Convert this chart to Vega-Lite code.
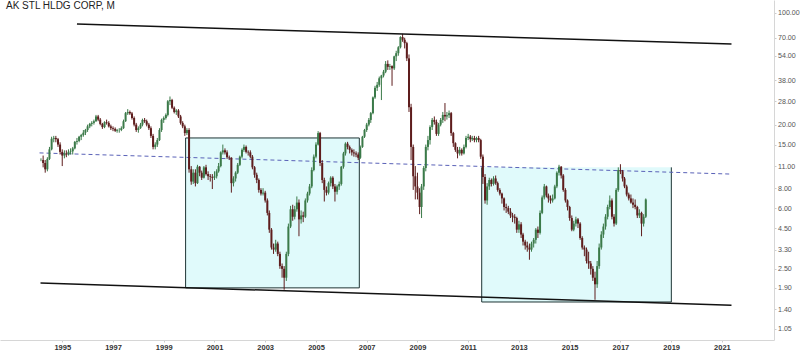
{
  "$schema": "https://vega.github.io/schema/vega-lite/v6.json",
  "width": 774,
  "height": 340,
  "autosize": "none",
  "padding": {"left": 0, "top": 0, "right": 26, "bottom": 12},
  "background": "#ffffff",
  "config": {"view": {"stroke": null}, "font": "Liberation Sans"},
  "title": {"text": "AK STL HLDG CORP, M", "anchor": "start", "frame": "group", "orient": "top", "offset": -11, "fontSize": 10, "fontWeight": "normal", "color": "#222222", "font": "Liberation Sans", "dx": 6},
  "datasets": {
    "candles": [
      {"d":"1994-03-01","o":12,"h":12.3,"l":11.8,"c":12},
      {"d":"1994-04-01","o":12,"h":12.8,"l":10.8,"c":11.5},
      {"d":"1994-05-01","o":11.5,"h":12,"l":10,"c":10.5},
      {"d":"1994-06-01","o":10.5,"h":12.5,"l":10.2,"c":12.2},
      {"d":"1994-07-01","o":12.2,"h":14.5,"l":12,"c":14},
      {"d":"1994-08-01","o":14,"h":16.8,"l":13.8,"c":16.3},
      {"d":"1994-09-01","o":16.3,"h":17,"l":15.5,"c":16.5},
      {"d":"1994-10-01","o":16.5,"h":17,"l":15.5,"c":16.2},
      {"d":"1994-11-01","o":16.2,"h":16.5,"l":14.5,"c":15},
      {"d":"1994-12-01","o":15,"h":15.5,"l":13,"c":13.5},
      {"d":"1995-01-01","o":13.5,"h":14,"l":11,"c":12.8},
      {"d":"1995-02-01","o":12.8,"h":13.8,"l":12.3,"c":13.2},
      {"d":"1995-03-01","o":13.2,"h":13.8,"l":12.5,"c":13},
      {"d":"1995-04-01","o":13,"h":14,"l":12.8,"c":13.5},
      {"d":"1995-05-01","o":13.5,"h":14.2,"l":13,"c":13.6},
      {"d":"1995-06-01","o":13.6,"h":14.5,"l":13,"c":14.2},
      {"d":"1995-07-01","o":14.2,"h":15.8,"l":14,"c":15.6},
      {"d":"1995-08-01","o":15.6,"h":16.5,"l":15,"c":15.8},
      {"d":"1995-09-01","o":15.8,"h":17,"l":15.5,"c":16.8},
      {"d":"1995-10-01","o":16.8,"h":17.5,"l":16,"c":17.2},
      {"d":"1995-11-01","o":17.2,"h":18.5,"l":16.8,"c":17.8},
      {"d":"1995-12-01","o":17.8,"h":18.8,"l":17.2,"c":18.5},
      {"d":"1996-01-01","o":18.5,"h":20,"l":18,"c":19.5},
      {"d":"1996-02-01","o":19.5,"h":20.5,"l":19,"c":20.2},
      {"d":"1996-03-01","o":20.2,"h":21,"l":19.5,"c":20.5},
      {"d":"1996-04-01","o":20.5,"h":21.5,"l":20,"c":21},
      {"d":"1996-05-01","o":21,"h":23,"l":20.8,"c":22.5},
      {"d":"1996-06-01","o":22.5,"h":23,"l":21,"c":21.5},
      {"d":"1996-07-01","o":21.5,"h":22,"l":19.8,"c":20.2},
      {"d":"1996-08-01","o":20.2,"h":20.5,"l":18.8,"c":19.3},
      {"d":"1996-09-01","o":19.3,"h":21,"l":19,"c":20.7},
      {"d":"1996-10-01","o":20.7,"h":21.5,"l":20,"c":20.5},
      {"d":"1996-11-01","o":20.5,"h":21,"l":19.2,"c":19.5},
      {"d":"1996-12-01","o":19.5,"h":20,"l":18.5,"c":19},
      {"d":"1997-01-01","o":19,"h":19.5,"l":18.2,"c":18.8},
      {"d":"1997-02-01","o":18.8,"h":19.2,"l":18,"c":18.3},
      {"d":"1997-03-01","o":18.3,"h":18.8,"l":17.8,"c":18.5},
      {"d":"1997-04-01","o":18.5,"h":19,"l":17.8,"c":18.5},
      {"d":"1997-05-01","o":18.5,"h":19.5,"l":18.2,"c":19},
      {"d":"1997-06-01","o":19,"h":21.5,"l":18.8,"c":21},
      {"d":"1997-07-01","o":21,"h":24,"l":20.8,"c":23.6},
      {"d":"1997-08-01","o":23.6,"h":25,"l":23,"c":24},
      {"d":"1997-09-01","o":24,"h":24.5,"l":23,"c":23.5},
      {"d":"1997-10-01","o":23.5,"h":24,"l":21.5,"c":22},
      {"d":"1997-11-01","o":22,"h":22.5,"l":19.5,"c":20},
      {"d":"1997-12-01","o":20,"h":20.5,"l":18,"c":18.5},
      {"d":"1998-01-01","o":18.5,"h":19.5,"l":17.8,"c":19},
      {"d":"1998-02-01","o":19,"h":20.5,"l":18.8,"c":20},
      {"d":"1998-03-01","o":20,"h":21.8,"l":19.5,"c":21.4},
      {"d":"1998-04-01","o":21.4,"h":22,"l":20.5,"c":21},
      {"d":"1998-05-01","o":21,"h":21.5,"l":19.5,"c":20},
      {"d":"1998-06-01","o":20,"h":20.5,"l":18.5,"c":19},
      {"d":"1998-07-01","o":19,"h":19.5,"l":16.5,"c":17},
      {"d":"1998-08-01","o":17,"h":17.5,"l":14,"c":14.5},
      {"d":"1998-09-01","o":14.5,"h":15.5,"l":14,"c":15},
      {"d":"1998-10-01","o":15,"h":16.5,"l":14.5,"c":16},
      {"d":"1998-11-01","o":16,"h":19,"l":15.8,"c":18.5},
      {"d":"1998-12-01","o":18.5,"h":21.8,"l":18,"c":21.4},
      {"d":"1999-01-01","o":21.4,"h":22.5,"l":20.5,"c":22},
      {"d":"1999-02-01","o":22,"h":23.5,"l":21.5,"c":23},
      {"d":"1999-03-01","o":23,"h":28.5,"l":22.5,"c":28},
      {"d":"1999-04-01","o":28,"h":30,"l":26.5,"c":28.5},
      {"d":"1999-05-01","o":28.5,"h":29,"l":25,"c":25.5},
      {"d":"1999-06-01","o":25.5,"h":26,"l":23.5,"c":24},
      {"d":"1999-07-01","o":24,"h":25,"l":23,"c":24.5},
      {"d":"1999-08-01","o":24.5,"h":25,"l":22,"c":22.5},
      {"d":"1999-09-01","o":22.5,"h":23,"l":20,"c":20.5},
      {"d":"1999-10-01","o":20.5,"h":21,"l":19,"c":19.5},
      {"d":"1999-11-01","o":19.5,"h":20,"l":17,"c":17.7},
      {"d":"1999-12-01","o":17.7,"h":19,"l":17.2,"c":18.5},
      {"d":"2000-01-01","o":18.5,"h":19,"l":10,"c":10.5},
      {"d":"2000-02-01","o":10.5,"h":11,"l":8.4,"c":8.8},
      {"d":"2000-03-01","o":8.8,"h":10.5,"l":8.5,"c":10},
      {"d":"2000-04-01","o":10,"h":10.5,"l":8.2,"c":8.6},
      {"d":"2000-05-01","o":8.6,"h":11.2,"l":8.5,"c":10.9},
      {"d":"2000-06-01","o":10.9,"h":11,"l":9.5,"c":10},
      {"d":"2000-07-01","o":10,"h":10.3,"l":9,"c":9.3},
      {"d":"2000-08-01","o":9.3,"h":11,"l":9.2,"c":10.8},
      {"d":"2000-09-01","o":10.8,"h":11.2,"l":9.6,"c":9.8},
      {"d":"2000-10-01","o":9.8,"h":10.2,"l":9,"c":9.5},
      {"d":"2000-11-01","o":9.5,"h":9.8,"l":8.8,"c":9.4},
      {"d":"2000-12-01","o":9.4,"h":9.8,"l":7.9,"c":9.3},
      {"d":"2001-01-01","o":9.3,"h":10.2,"l":9,"c":9.5},
      {"d":"2001-02-01","o":9.5,"h":10.5,"l":9.2,"c":10.2},
      {"d":"2001-03-01","o":10.2,"h":11.5,"l":10,"c":11},
      {"d":"2001-04-01","o":11,"h":13.6,"l":10.8,"c":13.4},
      {"d":"2001-05-01","o":13.4,"h":15,"l":13,"c":13.8},
      {"d":"2001-06-01","o":13.8,"h":14.2,"l":13,"c":13.4},
      {"d":"2001-07-01","o":13.4,"h":13.8,"l":12.2,"c":12.5},
      {"d":"2001-08-01","o":12.5,"h":12.8,"l":12,"c":12.4},
      {"d":"2001-09-01","o":12.4,"h":12.5,"l":7.5,"c":8.6},
      {"d":"2001-10-01","o":8.6,"h":9.5,"l":8.2,"c":9.2},
      {"d":"2001-11-01","o":9.2,"h":10.2,"l":8.8,"c":10},
      {"d":"2001-12-01","o":10,"h":11.5,"l":9.8,"c":11.2},
      {"d":"2002-01-01","o":11.2,"h":12.8,"l":11,"c":12.6},
      {"d":"2002-02-01","o":12.6,"h":14.2,"l":12.3,"c":13.9},
      {"d":"2002-03-01","o":13.9,"h":15,"l":13.5,"c":14.5},
      {"d":"2002-04-01","o":14.5,"h":14.8,"l":13.2,"c":13.5},
      {"d":"2002-05-01","o":13.5,"h":13.8,"l":12.8,"c":13.4},
      {"d":"2002-06-01","o":13.4,"h":13.8,"l":12.3,"c":12.6},
      {"d":"2002-07-01","o":12.6,"h":12.9,"l":10.5,"c":10.8},
      {"d":"2002-08-01","o":10.8,"h":11,"l":9.3,"c":9.7},
      {"d":"2002-09-01","o":9.7,"h":10,"l":8.6,"c":9},
      {"d":"2002-10-01","o":9,"h":9.2,"l":7.5,"c":7.8},
      {"d":"2002-11-01","o":7.8,"h":8,"l":7.2,"c":7.4},
      {"d":"2002-12-01","o":7.4,"h":8,"l":7.2,"c":7.5},
      {"d":"2003-01-01","o":7.5,"h":7.7,"l":6.5,"c":6.7},
      {"d":"2003-02-01","o":6.7,"h":6.9,"l":5.4,"c":5.6},
      {"d":"2003-03-01","o":5.6,"h":5.8,"l":4.2,"c":4.4},
      {"d":"2003-04-01","o":4.4,"h":4.5,"l":3.3,"c":3.4},
      {"d":"2003-05-01","o":3.4,"h":3.6,"l":3.1,"c":3.3},
      {"d":"2003-06-01","o":3.3,"h":3.8,"l":3.2,"c":3.6},
      {"d":"2003-07-01","o":3.6,"h":3.7,"l":3,"c":3.1},
      {"d":"2003-08-01","o":3.1,"h":3.2,"l":2.5,"c":2.6},
      {"d":"2003-09-01","o":2.6,"h":2.7,"l":2.2,"c":2.5},
      {"d":"2003-10-01","o":2.5,"h":2.6,"l":1.85,"c":2.2},
      {"d":"2003-11-01","o":2.2,"h":3.2,"l":2.1,"c":3.1},
      {"d":"2003-12-01","o":3.1,"h":4.8,"l":3,"c":4.6},
      {"d":"2004-01-01","o":4.6,"h":6.2,"l":4.5,"c":5.9},
      {"d":"2004-02-01","o":5.9,"h":6.3,"l":5,"c":5.3},
      {"d":"2004-03-01","o":5.3,"h":6.2,"l":5.1,"c":5.9},
      {"d":"2004-04-01","o":5.9,"h":7.1,"l":5.7,"c":6.5},
      {"d":"2004-05-01","o":6.5,"h":6.8,"l":4,"c":5.1},
      {"d":"2004-06-01","o":5.1,"h":5.8,"l":4.8,"c":5.4},
      {"d":"2004-07-01","o":5.4,"h":5.7,"l":4.9,"c":5.3},
      {"d":"2004-08-01","o":5.3,"h":6.9,"l":5.2,"c":6.7},
      {"d":"2004-09-01","o":6.7,"h":7.6,"l":6.5,"c":7.4},
      {"d":"2004-10-01","o":7.4,"h":8.5,"l":7.2,"c":8.2},
      {"d":"2004-11-01","o":8.2,"h":10.8,"l":8,"c":10.4},
      {"d":"2004-12-01","o":10.4,"h":13,"l":10.2,"c":12.6},
      {"d":"2005-01-01","o":12.6,"h":15.5,"l":12.3,"c":15},
      {"d":"2005-02-01","o":15,"h":18.2,"l":14.8,"c":17.7},
      {"d":"2005-03-01","o":17.7,"h":18,"l":11,"c":11.5},
      {"d":"2005-04-01","o":11.5,"h":12,"l":8.6,"c":9},
      {"d":"2005-05-01","o":9,"h":9.3,"l":6.6,"c":7.8},
      {"d":"2005-06-01","o":7.8,"h":8.2,"l":7.2,"c":7.5},
      {"d":"2005-07-01","o":7.5,"h":8.8,"l":7.3,"c":8.6},
      {"d":"2005-08-01","o":8.6,"h":9.5,"l":8.2,"c":9.3},
      {"d":"2005-09-01","o":9.3,"h":9.5,"l":7.9,"c":8.2},
      {"d":"2005-10-01","o":8.2,"h":8.5,"l":6.6,"c":7.6},
      {"d":"2005-11-01","o":7.6,"h":8.4,"l":7.3,"c":8.2},
      {"d":"2005-12-01","o":8.2,"h":8.8,"l":7.8,"c":8.5},
      {"d":"2006-01-01","o":8.5,"h":11,"l":8.3,"c":10.9},
      {"d":"2006-02-01","o":10.9,"h":13.5,"l":10.6,"c":13.2},
      {"d":"2006-03-01","o":13.2,"h":15.5,"l":12.8,"c":15.2},
      {"d":"2006-04-01","o":15.2,"h":15.6,"l":14,"c":14.5},
      {"d":"2006-05-01","o":14.5,"h":14.8,"l":13.2,"c":13.9},
      {"d":"2006-06-01","o":13.9,"h":14.2,"l":12.8,"c":13.4},
      {"d":"2006-07-01","o":13.4,"h":14,"l":12.6,"c":13.2},
      {"d":"2006-08-01","o":13.2,"h":13.6,"l":12.5,"c":13},
      {"d":"2006-09-01","o":13,"h":13.4,"l":12,"c":12.4},
      {"d":"2006-10-01","o":12.4,"h":14.8,"l":12.2,"c":14.5},
      {"d":"2006-11-01","o":14.5,"h":17,"l":14.3,"c":16.8},
      {"d":"2006-12-01","o":16.8,"h":18.8,"l":16.5,"c":18.5},
      {"d":"2007-01-01","o":18.5,"h":20.5,"l":18,"c":20},
      {"d":"2007-02-01","o":20,"h":22,"l":19.5,"c":21.4},
      {"d":"2007-03-01","o":21.4,"h":24,"l":20.5,"c":23.6},
      {"d":"2007-04-01","o":23.6,"h":30,"l":23.2,"c":29.6},
      {"d":"2007-05-01","o":29.6,"h":35,"l":29,"c":34},
      {"d":"2007-06-01","o":34,"h":37,"l":32.5,"c":35.5},
      {"d":"2007-07-01","o":35.5,"h":40,"l":34.5,"c":39},
      {"d":"2007-08-01","o":39,"h":41,"l":28.5,"c":40.6},
      {"d":"2007-09-01","o":40.6,"h":44,"l":39.5,"c":42.9},
      {"d":"2007-10-01","o":42.9,"h":50,"l":42,"c":48},
      {"d":"2007-11-01","o":48,"h":50.5,"l":44,"c":46},
      {"d":"2007-12-01","o":46,"h":48,"l":44,"c":46.5},
      {"d":"2008-01-01","o":46.5,"h":47,"l":35,"c":45},
      {"d":"2008-02-01","o":45,"h":54,"l":44,"c":53.5},
      {"d":"2008-03-01","o":53.5,"h":58,"l":50,"c":56},
      {"d":"2008-04-01","o":56,"h":62,"l":54,"c":61},
      {"d":"2008-05-01","o":61,"h":71.5,"l":60,"c":70.7},
      {"d":"2008-06-01","o":70.7,"h":74,"l":66,"c":68},
      {"d":"2008-07-01","o":68,"h":70,"l":60,"c":64.7},
      {"d":"2008-08-01","o":64.7,"h":66,"l":50,"c":52},
      {"d":"2008-09-01","o":52,"h":55,"l":24,"c":25.7},
      {"d":"2008-10-01","o":25.7,"h":27,"l":12,"c":14.5},
      {"d":"2008-11-01","o":14.5,"h":15,"l":7.8,"c":9.5},
      {"d":"2008-12-01","o":9.5,"h":11,"l":6.8,"c":8.2},
      {"d":"2009-01-01","o":8.2,"h":10,"l":6.8,"c":7.5},
      {"d":"2009-02-01","o":7.5,"h":8,"l":5.5,"c":6.1},
      {"d":"2009-03-01","o":6.1,"h":8.5,"l":5.2,"c":8.2},
      {"d":"2009-04-01","o":8.2,"h":11,"l":7.8,"c":10.7},
      {"d":"2009-05-01","o":10.7,"h":15,"l":10.2,"c":14.5},
      {"d":"2009-06-01","o":14.5,"h":17,"l":13.8,"c":16},
      {"d":"2009-07-01","o":16,"h":19.8,"l":15,"c":19.3},
      {"d":"2009-08-01","o":19.3,"h":22,"l":18.5,"c":21.4},
      {"d":"2009-09-01","o":21.4,"h":22.5,"l":20,"c":20.8},
      {"d":"2009-10-01","o":20.8,"h":21.5,"l":17,"c":17.5},
      {"d":"2009-11-01","o":17.5,"h":20.5,"l":17,"c":20},
      {"d":"2009-12-01","o":20,"h":22,"l":19.5,"c":21.4},
      {"d":"2010-01-01","o":21.4,"h":24,"l":20.5,"c":23},
      {"d":"2010-02-01","o":23,"h":27.3,"l":21,"c":22.5},
      {"d":"2010-03-01","o":22.5,"h":24,"l":21.5,"c":22.9},
      {"d":"2010-04-01","o":22.9,"h":24.5,"l":22,"c":23.6},
      {"d":"2010-05-01","o":23.6,"h":24,"l":17,"c":17.7},
      {"d":"2010-06-01","o":17.7,"h":18,"l":14.5,"c":15.3},
      {"d":"2010-07-01","o":15.3,"h":15.5,"l":13.5,"c":13.9},
      {"d":"2010-08-01","o":13.9,"h":14.5,"l":12.3,"c":13.2},
      {"d":"2010-09-01","o":13.2,"h":14.5,"l":12.8,"c":13.9},
      {"d":"2010-10-01","o":13.9,"h":14.2,"l":12.8,"c":13.2},
      {"d":"2010-11-01","o":13.2,"h":15,"l":13,"c":14.5},
      {"d":"2010-12-01","o":14.5,"h":17,"l":14.2,"c":16.5},
      {"d":"2011-01-01","o":16.5,"h":17.5,"l":16,"c":16.8},
      {"d":"2011-02-01","o":16.8,"h":17.2,"l":15.5,"c":16.2},
      {"d":"2011-03-01","o":16.2,"h":17,"l":15.8,"c":16.5},
      {"d":"2011-04-01","o":16.5,"h":17,"l":15.5,"c":16},
      {"d":"2011-05-01","o":16,"h":16.8,"l":15.5,"c":16.5},
      {"d":"2011-06-01","o":16.5,"h":17,"l":15.5,"c":16},
      {"d":"2011-07-01","o":16,"h":16.3,"l":12.2,"c":12.6},
      {"d":"2011-08-01","o":12.6,"h":13,"l":8.5,"c":9.4},
      {"d":"2011-09-01","o":9.4,"h":9.8,"l":6.4,"c":6.7},
      {"d":"2011-10-01","o":6.7,"h":8.6,"l":6.3,"c":8.2},
      {"d":"2011-11-01","o":8.2,"h":9.3,"l":7.8,"c":9},
      {"d":"2011-12-01","o":9,"h":9.2,"l":8.2,"c":8.5},
      {"d":"2012-01-01","o":8.5,"h":9.5,"l":8.3,"c":9.2},
      {"d":"2012-02-01","o":9.2,"h":9.6,"l":8.4,"c":8.6},
      {"d":"2012-03-01","o":8.6,"h":8.8,"l":7.6,"c":7.8},
      {"d":"2012-04-01","o":7.8,"h":8,"l":7.2,"c":7.4},
      {"d":"2012-05-01","o":7.4,"h":7.5,"l":6.4,"c":6.9},
      {"d":"2012-06-01","o":6.9,"h":7,"l":5.8,"c":6.1},
      {"d":"2012-07-01","o":6.1,"h":6.4,"l":5.6,"c":6},
      {"d":"2012-08-01","o":6,"h":6.2,"l":5.5,"c":5.7},
      {"d":"2012-09-01","o":5.7,"h":6,"l":5.2,"c":5.4},
      {"d":"2012-10-01","o":5.4,"h":5.6,"l":4.9,"c":5.3},
      {"d":"2012-11-01","o":5.3,"h":5.5,"l":4.8,"c":5.2},
      {"d":"2012-12-01","o":5.2,"h":5.3,"l":4.2,"c":4.4},
      {"d":"2013-01-01","o":4.4,"h":5,"l":4.2,"c":4.75},
      {"d":"2013-02-01","o":4.75,"h":4.9,"l":3.9,"c":4.1},
      {"d":"2013-03-01","o":4.1,"h":4.2,"l":3.5,"c":3.7},
      {"d":"2013-04-01","o":3.7,"h":3.8,"l":3.3,"c":3.5},
      {"d":"2013-05-01","o":3.5,"h":3.7,"l":3.2,"c":3.4},
      {"d":"2013-06-01","o":3.4,"h":3.6,"l":2.85,"c":3.3},
      {"d":"2013-07-01","o":3.3,"h":3.7,"l":3.2,"c":3.6},
      {"d":"2013-08-01","o":3.6,"h":3.9,"l":3.4,"c":3.8},
      {"d":"2013-09-01","o":3.8,"h":4.5,"l":3.6,"c":4.4},
      {"d":"2013-10-01","o":4.4,"h":4.6,"l":3.9,"c":4.2},
      {"d":"2013-11-01","o":4.2,"h":5.8,"l":4.1,"c":5.6},
      {"d":"2013-12-01","o":5.6,"h":7.2,"l":5.5,"c":7},
      {"d":"2014-01-01","o":7,"h":8.5,"l":6.8,"c":8.2},
      {"d":"2014-02-01","o":8.2,"h":8.3,"l":7,"c":7.2},
      {"d":"2014-03-01","o":7.2,"h":7.4,"l":6.5,"c":6.9},
      {"d":"2014-04-01","o":6.9,"h":7.2,"l":6.4,"c":6.7},
      {"d":"2014-05-01","o":6.7,"h":7.3,"l":6.5,"c":6.9},
      {"d":"2014-06-01","o":6.9,"h":8.4,"l":6.8,"c":8.2},
      {"d":"2014-07-01","o":8.2,"h":10.2,"l":8,"c":10},
      {"d":"2014-08-01","o":10,"h":11.2,"l":9.6,"c":10.9},
      {"d":"2014-09-01","o":10.9,"h":11,"l":9.2,"c":9.6},
      {"d":"2014-10-01","o":9.6,"h":9.8,"l":7.6,"c":7.8},
      {"d":"2014-11-01","o":7.8,"h":8,"l":6.5,"c":6.7},
      {"d":"2014-12-01","o":6.7,"h":6.8,"l":5.8,"c":6.1},
      {"d":"2015-01-01","o":6.1,"h":6.2,"l":5,"c":5.2},
      {"d":"2015-02-01","o":5.2,"h":5.4,"l":4.3,"c":4.4},
      {"d":"2015-03-01","o":4.4,"h":5,"l":4.3,"c":4.8},
      {"d":"2015-04-01","o":4.8,"h":5.3,"l":4.6,"c":5.1},
      {"d":"2015-05-01","o":5.1,"h":5.2,"l":4.5,"c":4.8},
      {"d":"2015-06-01","o":4.8,"h":4.9,"l":3.8,"c":3.9},
      {"d":"2015-07-01","o":3.9,"h":4,"l":3.3,"c":3.4},
      {"d":"2015-08-01","o":3.4,"h":3.5,"l":3,"c":3.3},
      {"d":"2015-09-01","o":3.3,"h":3.4,"l":2.7,"c":2.8},
      {"d":"2015-10-01","o":2.8,"h":3.2,"l":2.5,"c":2.7},
      {"d":"2015-11-01","o":2.7,"h":2.8,"l":2.3,"c":2.5},
      {"d":"2015-12-01","o":2.5,"h":2.6,"l":2.1,"c":2.2},
      {"d":"2016-01-01","o":2.2,"h":2.4,"l":1.6,"c":2},
      {"d":"2016-02-01","o":2,"h":2.8,"l":1.9,"c":2.6},
      {"d":"2016-03-01","o":2.6,"h":3.6,"l":2.5,"c":3.4},
      {"d":"2016-04-01","o":3.4,"h":4.3,"l":3.3,"c":4.1},
      {"d":"2016-05-01","o":4.1,"h":4.8,"l":3.9,"c":4.6},
      {"d":"2016-06-01","o":4.6,"h":5.5,"l":4.4,"c":5.3},
      {"d":"2016-07-01","o":5.3,"h":6.3,"l":5.1,"c":6.1},
      {"d":"2016-08-01","o":6.1,"h":7.2,"l":5.9,"c":6.7},
      {"d":"2016-09-01","o":6.7,"h":6.9,"l":5.1,"c":5.3},
      {"d":"2016-10-01","o":5.3,"h":5.5,"l":4.6,"c":4.8},
      {"d":"2016-11-01","o":4.8,"h":8,"l":4.7,"c":7.8},
      {"d":"2016-12-01","o":7.8,"h":10.8,"l":7.6,"c":10.4},
      {"d":"2017-01-01","o":10.4,"h":11.3,"l":9.8,"c":10.2},
      {"d":"2017-02-01","o":10.2,"h":10.4,"l":8.8,"c":9.2},
      {"d":"2017-03-01","o":9.2,"h":9.4,"l":8,"c":8.2},
      {"d":"2017-04-01","o":8.2,"h":8.4,"l":7.1,"c":7.3},
      {"d":"2017-05-01","o":7.3,"h":7.5,"l":6.7,"c":6.9},
      {"d":"2017-06-01","o":6.9,"h":7.3,"l":6.4,"c":6.5},
      {"d":"2017-07-01","o":6.5,"h":6.9,"l":6,"c":6.3},
      {"d":"2017-08-01","o":6.3,"h":6.8,"l":5.9,"c":6.1},
      {"d":"2017-09-01","o":6.1,"h":6.2,"l":5.2,"c":5.4},
      {"d":"2017-10-01","o":5.4,"h":5.9,"l":5.2,"c":5.6},
      {"d":"2017-11-01","o":5.6,"h":5.7,"l":4,"c":4.8},
      {"d":"2017-12-01","o":4.8,"h":5.5,"l":4.6,"c":5.3},
      {"d":"2018-01-01","o":5.3,"h":6.9,"l":5.2,"c":6.8}
    ],
    "boxes": [
      {"d":"1999-11-12","d2":"2006-09-17","p":16.5,"p2":1.9},
      {"d":"2011-07-15","d2":"2019-01-04","p":10.8,"p2":1.55}
    ],
    "edges": [
      {"g":"a","k":1,"d":"1999-11-12","p":1.9},
      {"g":"a","k":2,"d":"1999-11-12","p":16.5},
      {"g":"a","k":3,"d":"2006-09-17","p":16.5},
      {"g":"a","k":4,"d":"2006-09-17","p":1.9},
      {"g":"a","k":5,"d":"1999-11-12","p":1.9},
      {"g":"b","k":1,"d":"2011-07-15","p":10.8},
      {"g":"b","k":2,"d":"2011-07-15","p":1.55},
      {"g":"b","k":3,"d":"2019-01-04","p":1.55},
      {"g":"b","k":4,"d":"2019-01-04","p":10.8}
    ],
    "channel": [
      {"d":"1995-08-01","d2":"2021-05-19","p":85.4,"p2":63.9},
      {"d":"1994-02-22","d2":"2021-05-19","p":2.04,"p2":1.48}
    ],
    "mid": [
      {"d":"1994-02-08","d2":"2021-05-19","p":13.3,"p2":9.8}
    ]
  },
  "layer": [
    {
      "data": {"name": "boxes"},
      "mark": {"type": "rect", "fill": "#e0fafb", "clip": true},
      "encoding": {
        "x": {"field": "d", "type": "temporal",
          "scale": {"domain": [{"year": 1992, "month": 9, "date": 29}, {"year": 2022, "month": 11, "date": 10}]},
          "axis": {"title": null, "orient": "bottom", "grid": false,
            "values": [{"year":1995},{"year":1997},{"year":1999},{"year":2001},{"year":2003},{"year":2005},{"year":2007},{"year":2009},{"year":2011},{"year":2013},{"year":2015},{"year":2017},{"year":2019},{"year":2021}],
            "format": "%Y", "labelFontSize": 7.5, "labelFontWeight": "bold", "labelColor": "#333333", "labelFont": "Liberation Sans",
            "tickSize": 2, "tickColor": "#cccccc", "domainColor": "#d6d6d6", "labelPadding": 1, "labelFlush": false, "labelOverlap": false}},
        "x2": {"field": "d2"},
        "y": {"field": "p", "type": "quantitative",
          "scale": {"type": "log", "domain": [0.896, 120.6], "nice": false, "zero": false},
          "axis": {"title": null, "orient": "right", "grid": false,
            "values": [1.05, 1.4, 1.9, 2.5, 3.3, 4.5, 6, 8, 11, 15, 20, 28, 38, 54, 70, 100],
            "labelExpr": "format(datum.value, '.2f')", "labelFontSize": 7.1, "labelColor": "#555555", "labelFont": "Liberation Sans",
            "tickSize": 2, "tickColor": "#cccccc", "domainColor": "#d6d6d6", "labelPadding": 1.5, "labelFlush": false, "labelOverlap": false}},
        "y2": {"field": "p2"}
      }
    },
    {
      "data": {"name": "edges"},
      "mark": {"type": "line", "color": "#1e3434", "strokeWidth": 1, "clip": true},
      "encoding": {
        "x": {"field": "d", "type": "temporal"},
        "y": {"field": "p", "type": "quantitative"},
        "detail": {"field": "g"},
        "order": {"field": "k"}
      }
    },
    {
      "data": {"name": "mid"},
      "mark": {"type": "rule", "color": "#5a62b8", "strokeWidth": 1, "strokeDash": [4, 3], "clip": true},
      "encoding": {
        "x": {"field": "d", "type": "temporal"},
        "x2": {"field": "d2"},
        "y": {"field": "p", "type": "quantitative"},
        "y2": {"field": "p2"}
      }
    },
    {
      "data": {"name": "candles"},
      "mark": {"type": "rule", "strokeWidth": 1, "clip": true},
      "encoding": {
        "x": {"field": "d", "type": "temporal"},
        "y": {"field": "l", "type": "quantitative"},
        "y2": {"field": "h"},
        "color": {"condition": {"test": "datum.c >= datum.o", "value": "#3b7a49"}, "value": "#5e1d1d"}
      }
    },
    {
      "data": {"name": "candles"},
      "mark": {"type": "bar", "size": 2, "clip": true},
      "encoding": {
        "x": {"field": "d", "type": "temporal"},
        "y": {"field": "o", "type": "quantitative"},
        "y2": {"field": "c"},
        "color": {"condition": {"test": "datum.c >= datum.o", "value": "#3b7a49"}, "value": "#5e1d1d"}
      }
    },
    {
      "data": {"name": "channel"},
      "mark": {"type": "rule", "color": "#111111", "strokeWidth": 1.5, "clip": true},
      "encoding": {
        "x": {"field": "d", "type": "temporal"},
        "x2": {"field": "d2"},
        "y": {"field": "p", "type": "quantitative"},
        "y2": {"field": "p2"}
      }
    }
  ]
}
